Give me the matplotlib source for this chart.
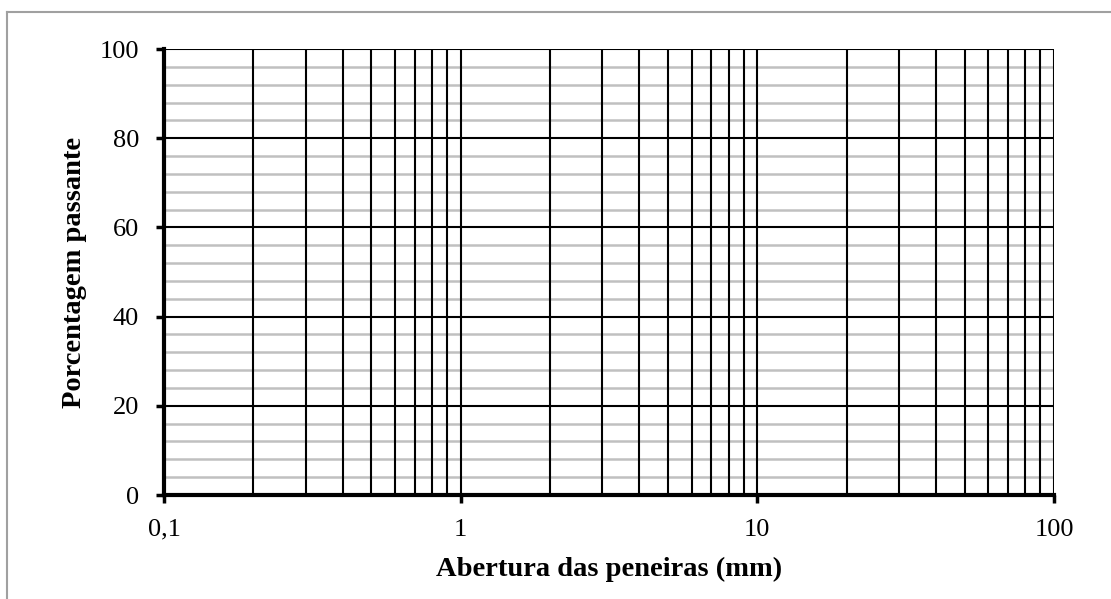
import numpy as np
import matplotlib
matplotlib.use("Agg")
from matplotlib import pyplot as plt
from matplotlib.lines import Line2D

# axis setup (empty grading chart)
x_ticks = [0.1, 1, 10, 100]
x_ticklabels = ["0,1", "1", "10", "100"]
y_ticks = [0, 20, 40, 60, 80, 100]
y_minor = [4, 8, 12, 16, 24, 28, 32, 36, 44, 48, 52, 56, 64, 68, 72, 76, 84, 88, 92, 96]
x_minor = [m * d for d in [0.1, 1, 10] for m in range(2, 10)]

plt.rcParams['font.family'] = ['Liberation Serif', 'DejaVu Serif']

fig = plt.figure(figsize=(11.11, 5.99), dpi=100)
ax = fig.add_axes([164 / 1111, 1 - 495 / 599, 890 / 1111, 446 / 599])

ax.set_xscale('log')
ax.set_xlim(0.1, 100)
ax.set_ylim(0, 100)

# grid lines
for y in y_minor:
    ax.axhline(y, color='#c0c0c0', lw=1.8, zorder=1)
for y in y_ticks[1:]:
    ax.axhline(y, color='black', lw=1.5, zorder=2)
for x in x_minor + x_ticks[1:]:
    ax.axvline(x, color='black', lw=1.5, zorder=2)

ax.set_xticks(x_ticks)
ax.set_xticklabels(x_ticklabels)
ax.xaxis.set_minor_locator(matplotlib.ticker.NullLocator())
ax.set_yticks(y_ticks)
ax.tick_params(axis='both', which='major', direction='out', length=6, width=2.5,
               labelsize=19, colors='black')
ax.tick_params(axis='x', pad=11)
ax.tick_params(axis='y', pad=12)

for s in ['top', 'right']:
    ax.spines[s].set_visible(False)
for s in ['left', 'bottom']:
    ax.spines[s].set_linewidth(3)
    ax.spines[s].set_zorder(3)

ax.set_xlabel('Abertura das peneiras (mm)', fontsize=20.5, fontweight='bold', labelpad=12)
ax.set_ylabel('Porcentagem passante', fontsize=20.5, fontweight='bold', labelpad=9)

# outer chart-area border (only top and left visible)
fig.add_artist(Line2D([7 / 1111, 7 / 1111], [0, 1 - 12 / 599], color='#a0a0a0', lw=1.5))
fig.add_artist(Line2D([7 / 1111, 1], [1 - 12 / 599, 1 - 12 / 599], color='#a0a0a0', lw=1.5))

fig.savefig('out.png', dpi=100)
